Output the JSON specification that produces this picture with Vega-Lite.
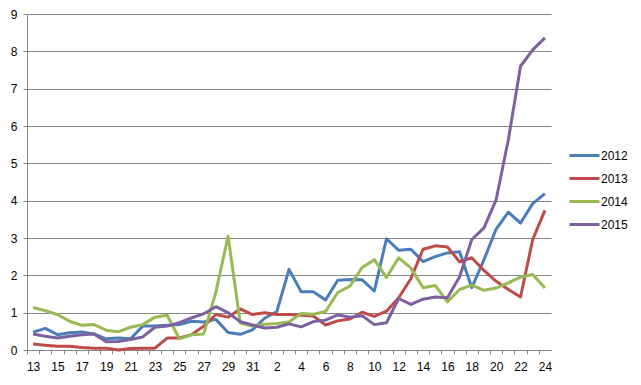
{
  "$schema": "https://vega.github.io/schema/vega-lite/v6.json",
  "width": 524,
  "height": 336,
  "autosize": {"type": "none"},
  "padding": {"left": 27, "top": 14, "right": 90, "bottom": 35},
  "background": "#ffffff",
  "config": {
    "font": "Liberation Sans",
    "view": {"stroke": null},
    "axis": {"labelFont": "Liberation Sans", "labelFontSize": 12, "labelColor": "#000000"},
    "legend": {"labelFont": "Liberation Sans"}
  },
  "data": {
    "values": [
      {"d": "07-13", "y2012": 0.48, "y2013": 0.16, "y2014": 1.14, "y2015": 0.43},
      {"d": "07-14", "y2012": 0.58, "y2013": 0.13, "y2014": 1.05, "y2015": 0.37},
      {"d": "07-15", "y2012": 0.41, "y2013": 0.10, "y2014": 0.95, "y2015": 0.32},
      {"d": "07-16", "y2012": 0.46, "y2013": 0.10, "y2014": 0.77, "y2015": 0.37},
      {"d": "07-17", "y2012": 0.48, "y2013": 0.07, "y2014": 0.66, "y2015": 0.41},
      {"d": "07-18", "y2012": 0.43, "y2013": 0.05, "y2014": 0.68, "y2015": 0.43},
      {"d": "07-19", "y2012": 0.30, "y2013": 0.05, "y2014": 0.53, "y2015": 0.22},
      {"d": "07-20", "y2012": 0.32, "y2013": 0.00, "y2014": 0.49, "y2015": 0.23},
      {"d": "07-21", "y2012": 0.30, "y2013": 0.04, "y2014": 0.61, "y2015": 0.28},
      {"d": "07-22", "y2012": 0.64, "y2013": 0.05, "y2014": 0.68, "y2015": 0.35},
      {"d": "07-23", "y2012": 0.64, "y2013": 0.05, "y2014": 0.88, "y2015": 0.61},
      {"d": "07-24", "y2012": 0.66, "y2013": 0.32, "y2014": 0.93, "y2015": 0.64},
      {"d": "07-25", "y2012": 0.68, "y2013": 0.32, "y2014": 0.30, "y2015": 0.73},
      {"d": "07-26", "y2012": 0.77, "y2013": 0.41, "y2014": 0.41, "y2015": 0.86},
      {"d": "07-27", "y2012": 0.75, "y2013": 0.64, "y2014": 0.43, "y2015": 0.97},
      {"d": "07-28", "y2012": 0.82, "y2013": 0.95, "y2014": 1.55, "y2015": 1.16},
      {"d": "07-29", "y2012": 0.47, "y2013": 0.88, "y2014": 3.05, "y2015": 1.00},
      {"d": "07-30", "y2012": 0.42, "y2013": 1.10, "y2014": 0.72, "y2015": 0.76},
      {"d": "07-31", "y2012": 0.54, "y2013": 0.95, "y2014": 0.64, "y2015": 0.67},
      {"d": "08-01", "y2012": 0.85, "y2013": 1.00, "y2014": 0.69, "y2015": 0.59},
      {"d": "08-02", "y2012": 1.03, "y2013": 0.95, "y2014": 0.71, "y2015": 0.61},
      {"d": "08-03", "y2012": 2.16, "y2013": 0.95, "y2014": 0.75, "y2015": 0.70},
      {"d": "08-04", "y2012": 1.56, "y2013": 0.93, "y2014": 0.98, "y2015": 0.62},
      {"d": "08-05", "y2012": 1.56, "y2013": 0.91, "y2014": 0.96, "y2015": 0.76},
      {"d": "08-06", "y2012": 1.34, "y2013": 0.67, "y2014": 1.03, "y2015": 0.80},
      {"d": "08-07", "y2012": 1.87, "y2013": 0.78, "y2014": 1.54, "y2015": 0.94},
      {"d": "08-08", "y2012": 1.89, "y2013": 0.83, "y2014": 1.71, "y2015": 0.88},
      {"d": "08-09", "y2012": 1.88, "y2013": 1.01, "y2014": 2.21, "y2015": 0.92},
      {"d": "08-10", "y2012": 1.58, "y2013": 0.90, "y2014": 2.42, "y2015": 0.68},
      {"d": "08-11", "y2012": 2.98, "y2013": 1.04, "y2014": 1.94, "y2015": 0.73},
      {"d": "08-12", "y2012": 2.67, "y2013": 1.40, "y2014": 2.47, "y2015": 1.38},
      {"d": "08-13", "y2012": 2.70, "y2013": 1.91, "y2014": 2.20, "y2015": 1.22},
      {"d": "08-14", "y2012": 2.37, "y2013": 2.70, "y2014": 1.67, "y2015": 1.36},
      {"d": "08-15", "y2012": 2.50, "y2013": 2.79, "y2014": 1.73, "y2015": 1.42},
      {"d": "08-16", "y2012": 2.60, "y2013": 2.76, "y2014": 1.29, "y2015": 1.40},
      {"d": "08-17", "y2012": 2.63, "y2013": 2.36, "y2014": 1.62, "y2015": 1.96},
      {"d": "08-18", "y2012": 1.67, "y2013": 2.47, "y2014": 1.74, "y2015": 2.96},
      {"d": "08-19", "y2012": 2.42, "y2013": 2.13, "y2014": 1.60, "y2015": 3.27},
      {"d": "08-20", "y2012": 3.24, "y2013": 1.84, "y2014": 1.66, "y2015": 4.03},
      {"d": "08-21", "y2012": 3.69, "y2013": 1.62, "y2014": 1.80, "y2015": 5.63},
      {"d": "08-22", "y2012": 3.40, "y2013": 1.42, "y2014": 1.95, "y2015": 7.60},
      {"d": "08-23", "y2012": 3.92, "y2013": 2.96, "y2014": 2.02, "y2015": 8.04},
      {"d": "08-24", "y2012": 4.19, "y2013": 3.74, "y2014": 1.66, "y2015": 8.36}
    ]
  },
  "transform": [
    {"fold": ["y2012", "y2013", "y2014", "y2015"], "as": ["key", "v"]}
  ],
  "mark": {"type": "line", "strokeWidth": 3, "strokeJoin": "round"},
  "encoding": {
    "x": {
      "field": "d",
      "type": "ordinal",
      "sort": null,
      "scale": {"type": "band", "paddingInner": 0, "paddingOuter": 0},
      "axis": {
        "title": null,
        "labelAngle": 0,
        "tickOffset": -6.09,
        "labelOffset": 6.09,
        "tickSize": 4,
        "labelPadding": 7,
        "domainColor": "#868686",
        "tickColor": "#868686",
        "grid": false,
        "labelExpr": "((slice(datum.value,0,2)=='07') == (toNumber(slice(datum.value,3))%2==1)) ? toNumber(slice(datum.value,3)) + '' : ''"
      }
    },
    "y": {
      "field": "v",
      "type": "quantitative",
      "scale": {"domain": [0, 9], "nice": false},
      "axis": {
        "title": null,
        "values": [0, 1, 2, 3, 4, 5, 6, 7, 8, 9],
        "tickSize": 4,
        "labelPadding": 6,
        "domainColor": "#868686",
        "tickColor": "#868686",
        "gridColor": "#868686",
        "gridOpacity": 1,
        "gridWidth": 1
      }
    },
    "color": {
      "field": "key",
      "type": "nominal",
      "scale": {
        "domain": ["y2012", "y2013", "y2014", "y2015"],
        "range": ["#4A7EBB", "#BE4B48", "#98B954", "#7D60A0"]
      },
      "legend": {
        "title": null,
        "orient": "none",
        "legendX": 541,
        "legendY": 125,
        "symbolType": "stroke",
        "symbolSize": 900,
        "symbolStrokeWidth": 3,
        "labelFontSize": 12,
        "labelColor": "#000000",
        "labelOffset": 0,
        "rowPadding": -5,
        "labelExpr": "slice(datum.value,1)"
      }
    }
  }
}
